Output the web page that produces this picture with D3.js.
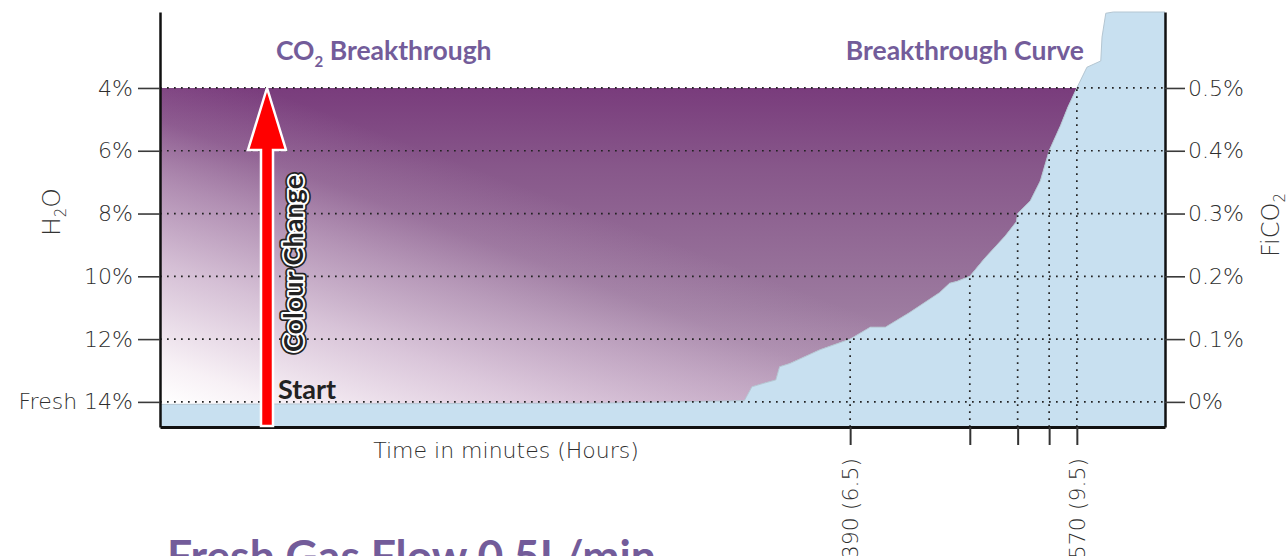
<!DOCTYPE html>
<html>
<head>
<meta charset="utf-8">
<script src="https://cdn.jsdelivr.net/npm/d3@7"></script>
<style>
  body { margin: 0; background: #fff; }
  svg { display: block; font-family: Lato, "Open Sans", sans-serif; }
  .thin { font-family: "DejaVu Sans", sans-serif; font-weight: 200; }
</style>
</head>
<body>
<div id="chart"></div>
<script>
// --- data ---
// breakthrough curve: time in minutes vs inspired CO2 (FiCO2, %)
var curveMinutes = [-158, 190, 306, 312, 322, 331, 334, 342, 366, 390, 406, 418, 437, 461, 469, 475, 485, 497, 513, 522, 523, 533, 541, 548, 557, 563, 570, 578, 589, 590, 593, 599, 640];
var curveFiCO2   = [-0.004, -0.002, 0.002, 0.024, 0.030, 0.035, 0.056, 0.061, 0.083, 0.1, 0.119, 0.119, 0.142, 0.174, 0.189, 0.192, 0.2, 0.229, 0.264, 0.287, 0.3, 0.32, 0.352, 0.4, 0.44, 0.47, 0.5, 0.533, 0.543, 0.581, 0.619, 0.621, 0.621];

// times at which each FiCO2 level is reached
var breakthroughTimes  = [390, 485, 523, 548, 570];
var breakthroughLevels = [0.1, 0.2, 0.3, 0.4, 0.5];
var timeLabels = {390: "390 (6.5)", 570: "570 (9.5)"};

var fico2Ticks = [0, 0.1, 0.2, 0.3, 0.4, 0.5];
var h2oTicks = [4, 6, 8, 10, 12, 14];

// --- layout ---
var width = 1288, height = 556;
var plotLeft = 160, plotRight = 1165, plotTop = 12, plotBottom = 427;

var svg = d3.select("#chart").append("svg")
  .attr("width", width).attr("height", height);

var x = d3.scaleLinear().domain([-158, 640]).range([plotLeft, plotRight]);
var y = d3.scaleLinear().domain([-0.04, 0.621]).range([plotBottom, plotTop]);
// H2O scale shares the same positions: 0% FiCO2 <-> 14%, 0.5% <-> 4%
var yH2O = y.copy().domain(y.domain().map(function(f){ return 14 - 20 * f; }));

var curve = curveMinutes.map(function(t, i){ return {t: t, f: curveFiCO2[i]}; });

// gradients: darker at the top, fading to white toward the bottom-left corner
var defs = svg.append("defs");
var lin = defs.append("linearGradient").attr("id", "purple")
  .attr("gradientUnits", "userSpaceOnUse")
  .attr("x1", 0).attr("y1", y(0.5)).attr("x2", 0).attr("y2", y(0));
lin.append("stop").attr("offset", 0).attr("stop-color", "#793c7c");
lin.append("stop").attr("offset", 0.25).attr("stop-color", "#87578a");
lin.append("stop").attr("offset", 0.7).attr("stop-color", "#9c7a9f");
lin.append("stop").attr("offset", 1).attr("stop-color", "#b496b5");

var fade = defs.append("linearGradient").attr("id", "fade")
  .attr("gradientUnits", "userSpaceOnUse")
  .attr("x1", plotLeft).attr("y1", y(0)).attr("x2", plotLeft + 0.351 * 330).attr("y2", y(0) - 0.936 * 330);
fade.append("stop").attr("offset", 0).attr("stop-color", "#fff").attr("stop-opacity", 1);
fade.append("stop").attr("offset", 0.12).attr("stop-color", "#fcf7fa").attr("stop-opacity", 0.94);
fade.append("stop").attr("offset", 0.4).attr("stop-color", "#efe0ee").attr("stop-opacity", 0.7);
fade.append("stop").attr("offset", 0.63).attr("stop-color", "#e4d0e4").attr("stop-opacity", 0.42);
fade.append("stop").attr("offset", 0.8).attr("stop-color", "#e4d0e4").attr("stop-opacity", 0.14);
fade.append("stop").attr("offset", 1).attr("stop-color", "#e4d0e4").attr("stop-opacity", 0);

// purple: between curve and 0.5% line
var purpleData = curve.filter(function(d){ return d.f <= 0.5; });
var purpleArea = d3.area()
  .x(function(d){ return x(d.t); })
  .y0(function(d){ return y(0.5); })
  .y1(function(d){ return y(d.f); });
svg.append("path").datum(purpleData).attr("d", purpleArea).attr("fill", "url(#purple)");
svg.append("path").datum(purpleData).attr("d", purpleArea).attr("fill", "url(#fade)");

// blue: under the curve
var blueArea = d3.area()
  .x(function(d){ return x(d.t); })
  .y0(plotBottom)
  .y1(function(d){ return y(d.f); });
svg.append("path").datum(curve).attr("d", blueArea).attr("fill", "#c8e0f0");
svg.append("path").datum(curve)
  .attr("d", d3.line().x(function(d){ return x(d.t); }).y(function(d){ return y(d.f); }))
  .attr("fill", "none").attr("stroke", "#b4c6d2").attr("stroke-width", 1);

// dotted grid
svg.append("g").selectAll("line").data(fico2Ticks).join("line")
  .attr("x1", plotLeft).attr("x2", plotRight)
  .attr("y1", function(d){ return y(d); }).attr("y2", function(d){ return y(d); })
  .attr("stroke", "#222").attr("stroke-width", 1.7).attr("stroke-dasharray", "1.7,5.3");
svg.append("g").selectAll("line").data(breakthroughTimes).join("line")
  .attr("x1", function(d){ return x(d); }).attr("x2", function(d){ return x(d); })
  .attr("y1", plotBottom).attr("y2", function(d, i){ return y(breakthroughLevels[i]); })
  .attr("stroke", "#222").attr("stroke-width", 1.7).attr("stroke-dasharray", "1.7,5.3");

// axes
function styleAxis(g) {
  g.select(".domain").attr("stroke", "#111").attr("stroke-width", 2.5);
  g.selectAll(".tick line").attr("stroke", "#3a3a3a").attr("stroke-width", 1.6);
  g.selectAll(".tick text").attr("class", "thin").attr("fill", "#2e2e2e").style("font-size", "22px");
}

svg.append("g").attr("transform", "translate(" + plotLeft + ",0)")
  .call(d3.axisLeft(yH2O).tickValues(h2oTicks).tickSize(22).tickSizeOuter(0).tickPadding(5)
    .tickFormat(function(d){ return d === 14 ? "Fresh 14%" : d + "%"; }))
  .call(styleAxis);

svg.append("g").attr("transform", "translate(" + plotRight + ",0)")
  .call(d3.axisRight(y).tickValues(fico2Ticks).tickSize(20).tickSizeOuter(0).tickPadding(3)
    .tickFormat(function(d){ return d3.format(".1~f")(d) + "%"; }))
  .call(styleAxis);

var xAxisG = svg.append("g").attr("transform", "translate(0," + plotBottom + ")")
  .call(d3.axisBottom(x).tickValues(breakthroughTimes).tickSize(18).tickSizeOuter(0)
    .tickFormat(function(d){ return timeLabels[d] || ""; }))
  .call(styleAxis);
xAxisG.select(".domain").attr("stroke-width", 3);
xAxisG.selectAll(".tick line").attr("stroke", "#333").attr("stroke-width", 2);
xAxisG.selectAll(".tick text")
  .attr("transform", "rotate(-90)")
  .attr("x", -31).attr("y", 0).attr("dy", "0.35em")
  .style("text-anchor", "end");

// axis titles
svg.append("text").attr("class", "thin").attr("transform", "translate(60,212) rotate(-90)")
  .attr("text-anchor", "middle").attr("fill", "#333").style("font-size", "25px")
  .call(function(t){
    t.append("tspan").text("H");
    t.append("tspan").attr("dy", 6).style("font-size", "15px").text("2");
    t.append("tspan").attr("dy", -6).text("O");
  });
svg.append("text").attr("class", "thin").attr("transform", "translate(1279,225) rotate(-90)")
  .attr("text-anchor", "middle").attr("fill", "#333").style("font-size", "24px")
  .call(function(t){
    t.append("tspan").text("FiCO");
    t.append("tspan").attr("dy", 6).style("font-size", "15px").text("2");
  });
svg.append("text").attr("class", "thin").attr("x", 506).attr("y", 458).attr("text-anchor", "middle")
  .attr("fill", "#2e2e2e").style("font-size", "22px")
  .text("Time in minutes (Hours)");

// annotations
var purpleText = "#735c9a";
svg.append("text").attr("x", 276).attr("y", 60).attr("fill", purpleText)
  .style("font-size", "26.5px").style("font-weight", 700)
  .call(function(t){
    t.append("tspan").text("CO");
    t.append("tspan").attr("dy", 7).style("font-size", "15px").text("2");
    t.append("tspan").attr("dy", -7).text(" Breakthrough");
  });
svg.append("text").attr("x", 1084).attr("y", 60).attr("text-anchor", "end").attr("fill", purpleText)
  .style("font-size", "26.5px").style("font-weight", 700).text("Breakthrough Curve");

// red arrow
var ax = 267, tipY = y(0.5), headY = 150;
svg.append("path")
  .attr("d", "M" + (ax - 6) + "," + (plotBottom - 1) + "V" + headY + "H" + (ax - 19) + "L" + ax + "," + tipY +
             "L" + (ax + 19) + "," + headY + "H" + (ax + 6) + "V" + (plotBottom - 1) + "Z")
  .attr("fill", "#ff0000").attr("stroke", "#fff").attr("stroke-width", 2.5).attr("stroke-linejoin", "miter");

var cc = svg.append("g").attr("transform", "translate(303,352) rotate(-90)");
cc.append("text").attr("fill", "#222").attr("stroke", "#222").attr("stroke-width", 7.5)
  .attr("stroke-linejoin", "round").style("font-size", "27px").style("font-weight", 700).text("Colour Change");
cc.append("text").attr("fill", "#222").attr("stroke", "#fff").attr("stroke-width", 4)
  .attr("stroke-linejoin", "round").style("paint-order", "stroke")
  .style("font-size", "27px").style("font-weight", 700).text("Colour Change");

svg.append("text").attr("x", 278).attr("y", 399).attr("fill", "#222")
  .style("font-size", "27px").style("font-weight", 700).text("Start");

// title (cut off at the bottom)
svg.append("text").attr("x", 167).attr("y", 572).attr("fill", purpleText)
  .style("font-size", "44.5px").style("font-weight", 700).text("Fresh Gas Flow 0.5L/min");
</script>
</body>
</html>
